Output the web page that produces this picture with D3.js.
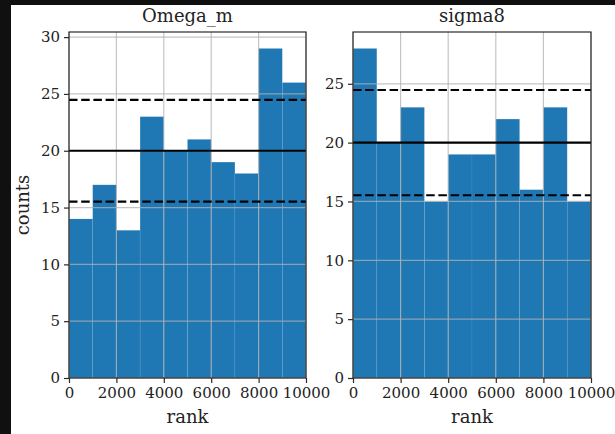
<!DOCTYPE html>
<html>
<head>
<meta charset="utf-8">
<script src="https://cdn.jsdelivr.net/npm/d3@7"></script>
<style>
  html, body { margin: 0; padding: 0; background: #101010; }
  svg { display: block; }
</style>
</head>
<body>
<svg id="chart" width="615" height="434"></svg>
<script>
// Rank histograms for two parameters, 10 bins over rank 0..10000
const binEdges = [0, 1000, 2000, 3000, 4000, 5000, 6000, 7000, 8000, 9000, 10000];
const omegaCounts = [14, 17, 13, 23, 20, 21, 19, 18, 29, 26];
const sigmaCounts = [28, 20, 23, 15, 19, 19, 22, 16, 23, 15];
const panelTitles = ["Omega_m", "sigma8"];
const xTicks = [0, 2000, 4000, 6000, 8000, 10000];
const yTicks = [0, 5, 10, 15, 20, 25, 30];
const expected = 20;
const band = [15.53, 24.47];

const SERIF = "DejaVu Serif, serif";
const svg = d3.select("#chart");

// white figure canvas
svg.append("rect")
  .attr("x", 11).attr("y", 5)
  .attr("width", 604).attr("height", 429)
  .attr("fill", "#ffffff");

const panels = [
  { title: panelTitles[0], counts: omegaCounts, x0: 69, x1: 306, ylabel: "counts" },
  { title: panelTitles[1], counts: sigmaCounts, x0: 353, x1: 591, ylabel: null }
];
const plotTop = 32, plotBottom = 378;

panels.forEach(p => {
  const g = svg.append("g");
  const x = d3.scaleLinear().domain([0, 10000]).range([p.x0, p.x1]);
  const ymax = d3.max(p.counts) * 1.05;
  const y = d3.scaleLinear().domain([0, ymax]).range([plotBottom, plotTop]);
  const yt = yTicks.filter(t => t <= ymax);

  // bars
  g.selectAll("rect.bar")
    .data(p.counts)
    .join("rect")
    .attr("class", "bar")
    .attr("x", (d, i) => x(binEdges[i]))
    .attr("width", (d, i) => x(binEdges[i + 1]) - x(binEdges[i]))
    .attr("y", d => y(d))
    .attr("height", d => y(0) - y(d))
    .attr("fill", "#1f77b4")
    .attr("stroke", "rgba(255,255,255,0.12)")
    .attr("stroke-width", 0.6);

  // grid lines
  g.selectAll("line.gx")
    .data(xTicks)
    .join("line")
    .attr("x1", d => x(d)).attr("x2", d => x(d))
    .attr("y1", plotTop).attr("y2", plotBottom)
    .attr("stroke", "#b0b0b0").attr("stroke-opacity", 0.75).attr("stroke-width", 1.2);
  g.selectAll("line.gy")
    .data(yt)
    .join("line")
    .attr("x1", p.x0).attr("x2", p.x1)
    .attr("y1", d => y(d)).attr("y2", d => y(d))
    .attr("stroke", "#b0b0b0").attr("stroke-opacity", 0.75).attr("stroke-width", 1.2);

  // expected count and its spread
  g.append("line")
    .attr("x1", p.x0).attr("x2", p.x1)
    .attr("y1", y(expected)).attr("y2", y(expected))
    .attr("stroke", "#000").attr("stroke-width", 2.2);
  band.forEach(v => {
    g.append("line")
      .attr("x1", p.x0).attr("x2", p.x1)
      .attr("y1", y(v)).attr("y2", y(v))
      .attr("stroke", "#000").attr("stroke-width", 2.2)
      .attr("stroke-dasharray", "8.5,3.7");
  });

  // frame
  g.append("rect")
    .attr("x", p.x0).attr("y", plotTop)
    .attr("width", p.x1 - p.x0).attr("height", plotBottom - plotTop)
    .attr("fill", "none").attr("stroke", "#2a2a2a").attr("stroke-width", 1.2);

  // axes
  const xAxis = d3.axisBottom(x).tickValues(xTicks).tickFormat(d3.format("d"))
    .tickSizeInner(5).tickSizeOuter(0).tickPadding(4);
  const gx = g.append("g").attr("transform", `translate(0,${plotBottom})`).call(xAxis);
  const yAxis = d3.axisLeft(y).tickValues(yt).tickFormat(d3.format("d"))
    .tickSizeInner(5).tickSizeOuter(0).tickPadding(4);
  const gy = g.append("g").attr("transform", `translate(${p.x0},0)`).call(yAxis);
  [gx, gy].forEach(a => {
    a.attr("font-family", SERIF);
    a.select(".domain").remove();
    a.selectAll(".tick line").attr("stroke", "#2a2a2a").attr("stroke-width", 1.2);
    a.selectAll(".tick text")
      .attr("font-family", SERIF)
      .attr("font-size", 15).attr("fill", "#222");
  });

  // title and axis labels
  g.append("text")
    .attr("x", (p.x0 + p.x1) / 2).attr("y", 22)
    .attr("text-anchor", "middle")
    .attr("font-family", SERIF).attr("font-size", 18).attr("fill", "#222")
    .text(p.title);
  g.append("text")
    .attr("x", (p.x0 + p.x1) / 2).attr("y", 423)
    .attr("text-anchor", "middle")
    .attr("font-family", SERIF).attr("font-size", 18).attr("fill", "#222")
    .text("rank");
  if (p.ylabel) {
    g.append("text")
      .attr("transform", `translate(29,${(plotTop + plotBottom) / 2}) rotate(-90)`)
      .attr("text-anchor", "middle")
      .attr("font-family", SERIF).attr("font-size", 18).attr("fill", "#222")
      .text(p.ylabel);
  }
});
</script>
</body>
</html>
